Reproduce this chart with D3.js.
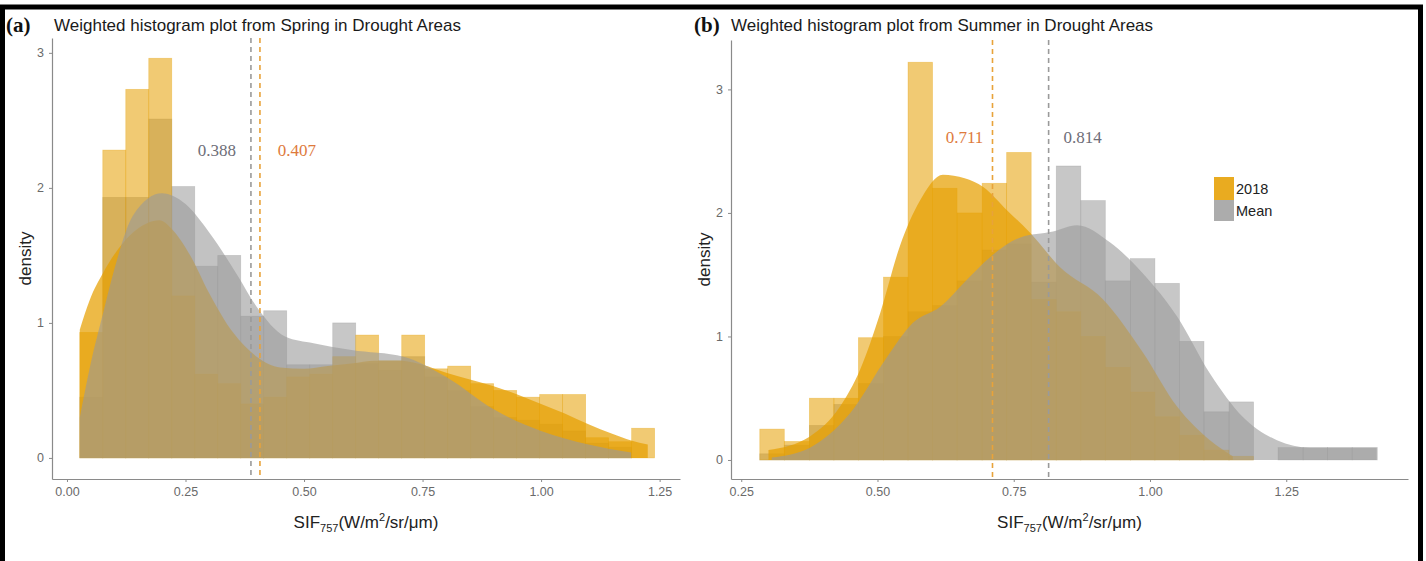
<!DOCTYPE html>
<html>
<head>
<meta charset="utf-8">
<script src="https://cdn.jsdelivr.net/npm/d3@7"></script>
<style>
  body { margin: 0; background: #fff; }
  text { font-family: "Liberation Sans", Arial, sans-serif; }
</style>
</head>
<body>
<div id="chart"></div>
<script>
// series names
var seriesNames = ["2018", "Mean"];

// (a) Spring: bin edges and weighted densities
var springEdges = [0.027, 0.0755, 0.124, 0.1725, 0.221, 0.2695, 0.318, 0.3665, 0.415, 0.4635,
  0.512, 0.5605, 0.609, 0.6575, 0.706, 0.7545, 0.803, 0.8515, 0.9, 0.9485,
  0.997, 1.0455, 1.094, 1.1425, 1.191, 1.2395];
var spring2018 = [0.93, 2.28, 2.73, 2.96, 1.2, 0.62, 0.55, 0.4, 0.45, 0.6,
  0.62, 0.75, 0.91, 0.72, 0.91, 0.66, 0.68, 0.55, 0.5, 0.45,
  0.47, 0.47, 0.15, 0.12, 0.22];
var springMean = [0.45, 1.93, 1.93, 2.51, 2.01, 1.42, 1.5, 1.05, 1.09, 0.69,
  0.69, 1.0, 0.7, 0.65, 0.75, 0.6, 0.5, 0.38, 0.3, 0.28,
  0.25, 0.2, 0.11, 0.08, 0];
var springDensity2018 = [[0.027, 0.95], [0.048, 1.17], [0.076, 1.37], [0.12, 1.6], [0.17, 1.74],
  [0.195, 1.76], [0.22, 1.7], [0.26, 1.5], [0.30, 1.22], [0.35, 0.93], [0.40, 0.75],
  [0.45, 0.67], [0.50, 0.66], [0.55, 0.68], [0.60, 0.7], [0.65, 0.72], [0.70, 0.72],
  [0.75, 0.69], [0.80, 0.63], [0.85, 0.58], [0.90, 0.53], [0.95, 0.47], [1.00, 0.4],
  [1.05, 0.33], [1.10, 0.25], [1.15, 0.18], [1.19, 0.13], [1.225, 0.1]];
var springDensityMean = [[0.027, 0.3], [0.05, 0.7], [0.076, 1.07], [0.10, 1.4], [0.14, 1.8],
  [0.20, 1.96], [0.25, 1.88], [0.30, 1.67], [0.36, 1.35], [0.40, 1.12], [0.46, 0.9],
  [0.52, 0.85], [0.60, 0.8], [0.71, 0.75], [0.80, 0.6], [0.90, 0.36], [1.00, 0.2],
  [1.10, 0.1], [1.19, 0.04]];
var springMeans = [0.407, 0.388];

// (b) Summer
var summerEdges = [0.284, 0.329, 0.375, 0.42, 0.465, 0.511, 0.556, 0.601, 0.646, 0.692,
  0.737, 0.782, 0.828, 0.873, 0.918, 0.964, 1.009, 1.054, 1.099, 1.145,
  1.19, 1.235, 1.281, 1.326, 1.371, 1.417];
var summer2018 = [0.25, 0.15, 0.5, 0.5, 0.99, 1.48, 3.22, 2.2, 2.0, 2.24,
  2.49, 1.3, 1.2, 1.0, 0.75, 0.55, 0.35, 0.2, 0.08, 0.03,
  0, 0, 0, 0, 0];
var summerMean = [0.05, 0.12, 0.28, 0.45, 0.62, 1.0, 1.2, 1.25, 1.45, 1.7,
  1.75, 1.44, 2.38, 2.1, 1.45, 1.63, 1.43, 0.96, 0.39, 0.47,
  0, 0.1, 0.1, 0.1, 0.1];
var summerDensity2018 = [[0.30, 0.08], [0.376, 0.19], [0.431, 0.43], [0.468, 0.73], [0.505, 1.19],
  [0.541, 1.73], [0.578, 2.1], [0.62, 2.31], [0.66, 2.28], [0.694, 2.21], [0.738, 2.02],
  [0.78, 1.84], [0.835, 1.56], [0.914, 1.3], [0.987, 0.87], [1.05, 0.43], [1.11, 0.16],
  [1.152, 0.03]];
var summerDensityMean = [[0.306, 0.02], [0.376, 0.1], [0.45, 0.38], [0.517, 0.83], [0.565, 1.11],
  [0.615, 1.24], [0.664, 1.46], [0.706, 1.64], [0.761, 1.8], [0.822, 1.85], [0.866, 1.9],
  [0.927, 1.76], [0.987, 1.51], [1.05, 1.16], [1.11, 0.7], [1.17, 0.35], [1.233, 0.16],
  [1.294, 0.1], [1.416, 0.1]];
var summerMeans = [0.711, 0.814];

// tick labels
var springXTicks = [0, 0.25, 0.5, 0.75, 1.0, 1.25];
var summerXTicks = [0.25, 0.5, 0.75, 1.0, 1.25];
var yTicks = [0, 1, 2, 3];

var titles = ["Weighted histogram plot from Spring in Drought Areas",
  "Weighted histogram plot from Summer in Drought Areas"];

var fillColor = {"2018": "#E69F00", "Mean": "#999999"};
var labelColor = {"2018": "#DE7A3C", "Mean": "#6E6E78"};
var lineColor = {"2018": "#E8A33A", "Mean": "#9A9A9A"};
var histAlpha = 0.55, dens2018Alpha = 0.72, densMeanAlpha = 0.6;

var svg = d3.select("#chart").append("svg")
  .attr("width", 1426).attr("height", 561);

function drawPanel(p) {
  var x = d3.scaleLinear().domain(p.xDomain).range([p.left, p.right]);
  var y = d3.scaleLinear().domain(p.yDomain).range([p.bottom, p.top]);
  var g = svg.append("g");

  // weighted histograms, Mean underneath
  [["Mean", p.histMean], ["2018", p.hist2018]].forEach(function(s) {
    var bins = s[1].map(function(v, i) { return {x0: p.edges[i], x1: p.edges[i + 1], v: v}; })
      .filter(function(d) { return d.v > 0; });
    g.append("g").selectAll("rect")
      .data(bins)
      .enter()
      .append("rect")
        .attr("x", function(d) { return x(d.x0); })
        .attr("width", function(d) { return x(d.x1) - x(d.x0); })
        .attr("y", function(d) { return y(d.v); })
        .attr("height", function(d) { return y(0) - y(d.v); })
        .attr("fill", fillColor[s[0]])
        .attr("fill-opacity", histAlpha)
        .attr("stroke", fillColor[s[0]])
        .attr("stroke-opacity", 0.4)
        .attr("stroke-width", 0.7);
  });

  var area = d3.area()
    .x(function(d) { return x(d[0]); })
    .y0(y(0))
    .y1(function(d) { return y(d[1]); })
    .curve(d3.curveMonotoneX);

  g.append("path").datum(p.dens2018).attr("d", area)
    .attr("fill", fillColor["2018"]).attr("fill-opacity", dens2018Alpha);
  g.append("path").datum(p.densMean).attr("d", area)
    .attr("fill", fillColor["Mean"]).attr("fill-opacity", densMeanAlpha);

  // mean lines + labels
  seriesNames.forEach(function(name, i) {
    var m = p.means[i];
    g.append("line")
      .attr("x1", x(m)).attr("x2", x(m))
      .attr("y1", p.top).attr("y2", p.bottom)
      .attr("stroke", lineColor[name])
      .attr("stroke-width", 1.6)
      .attr("stroke-dasharray", "5,4");
    g.append("text")
      .attr("x", x(m) + p.labelOffset[i])
      .attr("y", p.labelY)
      .attr("text-anchor", "middle")
      .style("font-family", "'Liberation Serif', 'Times New Roman', serif")
      .style("font-size", "17px")
      .attr("fill", labelColor[name])
      .text(d3.format(".3f")(m));
  });

  // axes
  var xAxis = svg.append("g")
    .attr("transform", "translate(0," + p.bottom + ")")
    .call(d3.axisBottom(x).tickValues(p.xTicks).tickFormat(d3.format(".2f"))
      .tickSize(3).tickSizeOuter(0).tickPadding(5));
  var yAxis = svg.append("g")
    .attr("transform", "translate(" + p.left + ",0)")
    .call(d3.axisLeft(y).tickValues(yTicks).tickFormat(d3.format("d"))
      .tickSize(3).tickSizeOuter(0).tickPadding(5));
  [xAxis, yAxis].forEach(function(a) {
    a.select(".domain").attr("stroke", "#8a8a8a").attr("stroke-width", 1.2);
    a.selectAll(".tick line").attr("stroke", "#8a8a8a");
    a.selectAll(".tick text").attr("fill", "#6a6a6a")
      .style("font-family", "'Liberation Sans', Arial, sans-serif")
      .style("font-size", "12.5px");
  });

  // axis titles
  var xt = svg.append("text")
    .attr("x", (p.left + p.right) / 2)
    .attr("y", 528)
    .attr("text-anchor", "middle")
    .attr("fill", "#222")
    .style("font-size", "17px");
  xt.append("tspan").text("SIF");
  xt.append("tspan").attr("dy", 4).style("font-size", "11px").text("757");
  xt.append("tspan").attr("dy", -4).text("(W/m");
  xt.append("tspan").attr("dy", -7).style("font-size", "11px").text("2");
  xt.append("tspan").attr("dy", 7).text("/sr/\u03bcm)");

  svg.append("text")
    .attr("transform", "translate(" + p.yTitleX + "," + ((p.top + p.bottom) / 2) + ") rotate(-90)")
    .attr("text-anchor", "middle")
    .attr("fill", "#222")
    .style("font-size", "17px")
    .text("density");

  // panel title
  svg.append("text")
    .attr("x", p.tagX).attr("y", 32)
    .style("font-family", "'Liberation Serif', 'Times New Roman', serif")
    .style("font-weight", "bold")
    .style("font-size", "21px")
    .attr("fill", "#111")
    .text(p.tag);
  svg.append("text")
    .attr("x", p.titleX).attr("y", 31)
    .attr("fill", "#1a1a1a")
    .style("font-size", "17px")
    .text(p.title);
}

drawPanel({
  edges: springEdges, hist2018: spring2018, histMean: springMean,
  dens2018: springDensity2018, densMean: springDensityMean, means: springMeans,
  xDomain: [-0.0316, 1.293], yDomain: [-0.156, 3.11],
  left: 52, right: 680, top: 38, bottom: 479,
  xTicks: springXTicks, labelOffset: [37, -34], labelY: 156,
  yTitleX: 31, tag: "(a)", tagX: 6, titleX: 54, title: titles[0]
});

drawPanel({
  edges: summerEdges, hist2018: summer2018, histMean: summerMean,
  dens2018: summerDensity2018, densMean: summerDensityMean, means: summerMeans,
  xDomain: [0.2312, 1.4734], yDomain: [-0.154, 3.40],
  left: 731, right: 1408, top: 40, bottom: 479,
  xTicks: summerXTicks, labelOffset: [-28, 34], labelY: 143,
  yTitleX: 710, tag: "(b)", tagX: 694, titleX: 731, title: titles[1]
});

// legend (keys built from the same layers as the chart)
var legend = svg.append("g").attr("transform", "translate(1214,177)");
seriesNames.forEach(function(name, i) {
  var ky = i === 0 ? 0 : 23;
  var kh = i === 0 ? 23 : 21;
  legend.append("rect").attr("x", 0).attr("y", ky).attr("width", 20).attr("height", kh)
    .attr("fill", fillColor[name]).attr("fill-opacity", histAlpha);
  legend.append("rect").attr("x", 0).attr("y", ky).attr("width", 20).attr("height", kh)
    .attr("fill", fillColor[name]).attr("fill-opacity", name === "2018" ? dens2018Alpha : densMeanAlpha);
  legend.append("text").attr("x", 22).attr("y", ky + kh / 2 + 5)
    .attr("fill", "#222").style("font-size", "14.5px").text(name);
});

// outer frame
svg.append("rect")
  .attr("x", 2.5).attr("y", 7).attr("width", 1418).attr("height", 600)
  .attr("fill", "none").attr("stroke", "#000").attr("stroke-width", 5);
</script>
</body>
</html>
